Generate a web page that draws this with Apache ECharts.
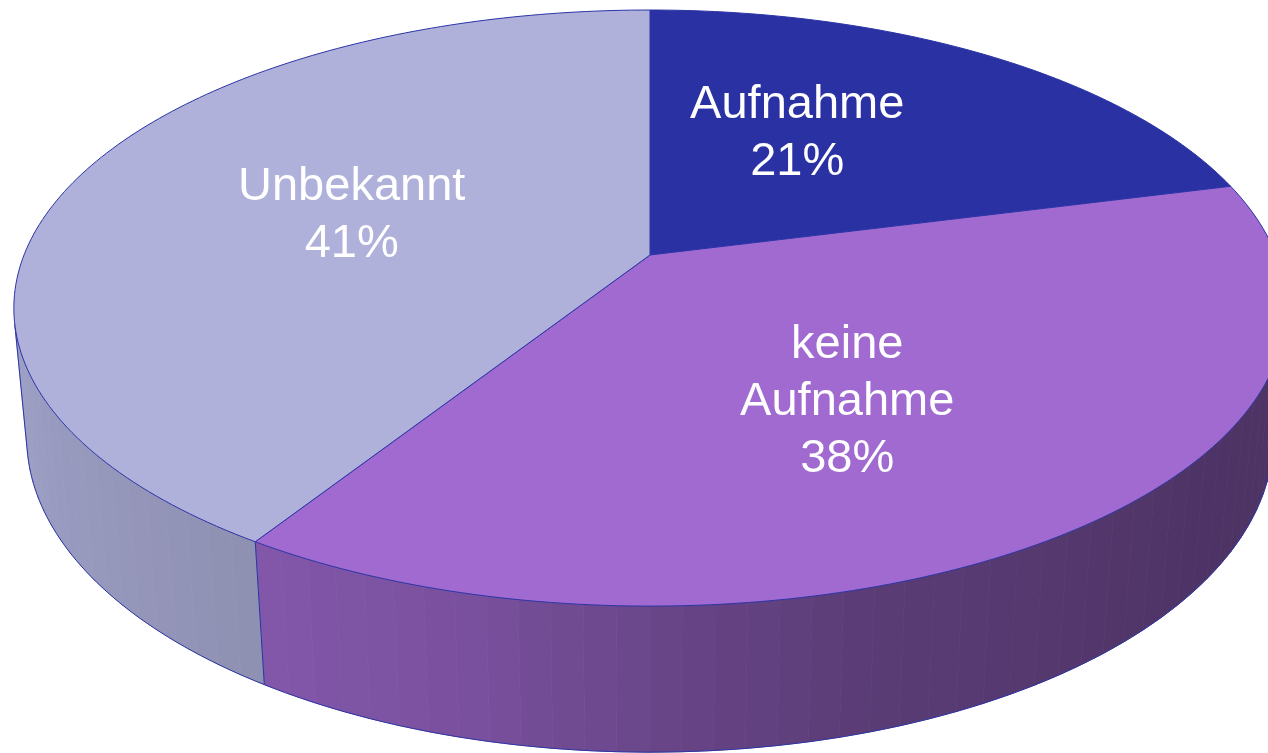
<!DOCTYPE html>
<html><head><meta charset="utf-8">
<script src="https://cdn.jsdelivr.net/npm/echarts@6/dist/echarts.min.js"></script>
<style>html,body{margin:0;padding:0;background:#fff;overflow:hidden}#c{width:1268px;height:753px}</style>
</head><body><div id="c"></div>
<script>
// ---- data ----
const categories = ['Aufnahme', 'keine Aufnahme', 'Unbekannt'];
const labelTexts = ['Aufnahme', 'keine\nAufnahme', 'Unbekannt'];
const values = [21, 38, 41];

// ---- style ----
const topColors = ['#2931A3', '#A06AD0', '#AFB1DB'];
const edgeColor = '#2B34A6';
const VIEW = { cx: 650, cy: 255, ax: 626, by: 288.6, k: 0.178, depth: 130, q: 0.02 };
const START_ANGLE = -90;
const SHADE = [[0, 0.48], [40, 0.49], [74, 0.57], [89, 0.65], [104, 0.76], [124, 0.82], [160, 0.89], [180, 0.9]];
const LABEL_R = 0.5;
const LABEL_NUDGE = [[-32, -15], [-1, 21], [-5, 0]];

function proj(theta, r, t) {
  const a = theta * Math.PI / 180;
  const X = r * Math.cos(a), Y = r * Math.sin(a);
  const w = 1 - VIEW.k * Y + VIEW.q * t;
  return [VIEW.cx + VIEW.ax * X / w, VIEW.cy + (VIEW.by * Y + VIEW.depth * t) / w];
}
function sliceAngles(i) {
  const sum = values.reduce((s, v) => s + v, 0);
  let acc = 0;
  for (let j = 0; j < i; j++) acc += values[j];
  const a0 = START_ANGLE + 360 * acc / sum;
  const a1 = a0 + 360 * values[i] / sum;
  return [a0, a1];
}
function shadeFactor(th) {
  while (th > 270) th -= 360;
  while (th < -90) th += 360;
  if (th <= SHADE[0][0]) return SHADE[0][1];
  if (th >= SHADE[SHADE.length - 1][0]) return SHADE[SHADE.length - 1][1];
  for (let j = 1; j < SHADE.length; j++) {
    if (th <= SHADE[j][0]) {
      const [x0, y0] = SHADE[j - 1], [x1, y1] = SHADE[j];
      return y0 + (y1 - y0) * (th - x0) / (x1 - x0);
    }
  }
  return 0.5;
}
function shade(hex, f) {
  const n = parseInt(hex.slice(1), 16);
  const r = Math.round(((n >> 16) & 255) * f), g = Math.round(((n >> 8) & 255) * f), b = Math.round((n & 255) * f);
  return 'rgb(' + r + ',' + g + ',' + b + ')';
}
function area(pts) {
  let s = 0;
  for (let i = 0; i < pts.length; i++) {
    const p = pts[i], q = pts[(i + 1) % pts.length];
    s += p[0] * q[1] - q[0] * p[1];
  }
  return s;
}

function renderSide(params, api) {
  const i = params.dataIndex;
  const [a0, a1] = sliceAngles(i);
  const n = Math.max(2, Math.ceil((a1 - a0) / 2.5));
  const children = [];
  const runs = [];
  let cur = null;
  for (let j = 0; j < n; j++) {
    const ta = a0 + (a1 - a0) * j / n, tb = a0 + (a1 - a0) * (j + 1) / n;
    const p1 = proj(ta, 1, 0), p2 = proj(tb, 1, 0), p3 = proj(tb, 1, 1), p4 = proj(ta, 1, 1);
    if (area([p1, p2, p3, p4]) < 0) {
      const col = shade(topColors[i], shadeFactor((ta + tb) / 2));
      children.push({ type: 'polygon', shape: { points: [p1, p2, p3, p4] }, style: { fill: col, stroke: col, lineWidth: 0.8 } });
      if (cur) cur[1] = tb; else { cur = [ta, tb]; runs.push(cur); }
    } else cur = null;
  }
  runs.forEach(([s, e]) => {
    const pts = [];
    const m = Math.max(2, Math.ceil((e - s) / 1));
    for (let j = 0; j <= m; j++) pts.push(proj(s + (e - s) * j / m, 1, 1));
    children.push({ type: 'polyline', shape: { points: pts }, style: { stroke: edgeColor, lineWidth: 1, fill: null } });
    children.push({ type: 'line', shape: { x1: proj(s, 1, 0)[0], y1: proj(s, 1, 0)[1], x2: proj(s, 1, 1)[0], y2: proj(s, 1, 1)[1] }, style: { stroke: edgeColor, lineWidth: 1 } });
    children.push({ type: 'line', shape: { x1: proj(e, 1, 0)[0], y1: proj(e, 1, 0)[1], x2: proj(e, 1, 1)[0], y2: proj(e, 1, 1)[1] }, style: { stroke: edgeColor, lineWidth: 1 } });
  });
  return { type: 'group', children: children };
}

function renderTop(params, api) {
  const i = params.dataIndex;
  const [a0, a1] = sliceAngles(i);
  const pts = [proj(0, 0, 0)];
  const n = Math.max(2, Math.ceil(a1 - a0));
  for (let j = 0; j <= n; j++) pts.push(proj(a0 + (a1 - a0) * j / n, 1, 0));
  return { type: 'polygon', shape: { points: pts }, style: { fill: topColors[i], stroke: edgeColor, lineWidth: 1, lineJoin: 'round' } };
}

function renderLabel(params, api) {
  const i = params.dataIndex;
  const [a0, a1] = sliceAngles(i);
  const p = proj((a0 + a1) / 2, LABEL_R, 0);
  const pct = Math.round(api.value(0) / values.reduce((s, v) => s + v, 0) * 100);
  return {
    type: 'text',
    style: {
      text: labelTexts[i] + '\n' + pct + '%',
      x: p[0] + LABEL_NUDGE[i][0], y: p[1] + LABEL_NUDGE[i][1],
      fill: '#ffffff', fontSize: 47, fontFamily: '"Liberation Sans", Arial, sans-serif',
      align: 'center', verticalAlign: 'middle', lineHeight: 57
    }
  };
}

const seriesData = values.map((v, i) => ({ name: categories[i], value: v }));
const chart = echarts.init(document.getElementById('c'), null, { renderer: 'canvas' });
chart.setOption({
  animation: false,
  backgroundColor: '#ffffff',
  series: [
    { type: 'custom', coordinateSystem: 'none', renderItem: renderSide, data: seriesData, z: 1, silent: true },
    { type: 'custom', coordinateSystem: 'none', renderItem: renderTop, data: seriesData, z: 2, silent: true },
    { type: 'custom', coordinateSystem: 'none', renderItem: renderLabel, data: seriesData, z: 3, silent: true }
  ]
});
</script>
</body></html>
